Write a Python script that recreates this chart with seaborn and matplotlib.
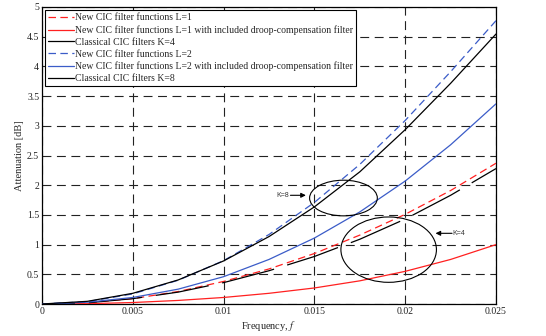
import matplotlib
matplotlib.use("Agg")
import matplotlib.pyplot as plt
from matplotlib.patches import Ellipse
from matplotlib.lines import Line2D
import seaborn as sns
import pandas as pd

# ---- data ----
freq = [0, 0.0025, 0.005, 0.0075, 0.01, 0.0125, 0.015, 0.0175, 0.02, 0.0225, 0.025]
new_L1 = [0, 0.02, 0.09, 0.21, 0.38, 0.59, 0.85, 1.16, 1.51, 1.91, 2.37]
new_L1_comp = [0, 0.005, 0.025, 0.06, 0.11, 0.18, 0.27, 0.39, 0.55, 0.75, 1.0]
classic_K4 = [0, 0.02, 0.09, 0.20, 0.36, 0.56, 0.80, 1.09, 1.43, 1.83, 2.28]
new_L2 = [0, 0.04, 0.17, 0.40, 0.73, 1.17, 1.71, 2.35, 3.09, 3.91, 4.77]
new_L2_comp = [0, 0.03, 0.11, 0.25, 0.46, 0.75, 1.11, 1.55, 2.07, 2.68, 3.37]
classic_K8 = [0, 0.045, 0.18, 0.405, 0.725, 1.135, 1.635, 2.225, 2.935, 3.715, 4.545]

labels = [
    "New CIC filter functions L=1",
    "New CIC filter functions L=1 with included droop-compensation filter",
    "Classical CIC filters K=4",
    "New CIC filter functions L=2",
    "New CIC filter functions L=2 with included droop-compensation filter",
    "Classical CIC filters K=8",
]
xtick_vals = [0, 0.005, 0.01, 0.015, 0.02, 0.025]
xtick_labels = ["0", "0.005", "0.01", "0.015", "0.02", "0.025"]
ytick_vals = [0, 0.5, 1, 1.5, 2, 2.5, 3, 3.5, 4, 4.5, 5]
ytick_labels = ["0", "0.5", "1", "1.5", "2", "2.5", "3", "3.5", "4", "4.5", "5"]

# ---- style ----
sns.set_style("ticks")
plt.rcParams["font.family"] = ["Liberation Serif", "DejaVu Serif"]
plt.rcParams["mathtext.fontset"] = "stix"

RED = "#ff2020"
BLUE = "#3b5cc8"
BLACK = "#000000"
dash_short = (0, (6, 3.5))
dash_k4 = (16.6, (43, 11))

series = [
    (new_L1, RED, dash_short),
    (new_L1_comp, RED, "-"),
    (classic_K4, BLACK, dash_k4),
    (new_L2, BLUE, dash_short),
    (new_L2_comp, BLUE, "-"),
    (classic_K8, BLACK, "-"),
]

fig = plt.figure(figsize=(5.46, 3.36), dpi=100)
ax = fig.add_axes([42 / 546, 1 - 304 / 336, 454 / 546, 297 / 336])

legend_styles = [dash_short, "-", "-", dash_short, "-", "-"]
handles = []
for (vals, col, ls), lab, lls in zip(series, labels, legend_styles):
    df = pd.DataFrame({"f": freq, "a": vals})
    n_before = len(ax.lines)
    sns.lineplot(data=df, x="f", y="a", ax=ax, color=col, lw=0.9, legend=False)
    ln = ax.lines[n_before]
    ln.set_linestyle(ls)
    ln.set_zorder(3)
    handles.append(Line2D([], [], color=col, lw=0.9, linestyle=lls, label=lab))

ax.set_xlim(0, 0.025)
ax.set_ylim(0, 5)
ax.set_xticks(xtick_vals)
ax.set_xticklabels(xtick_labels)
ax.set_yticks(ytick_vals)
ax.set_yticklabels(ytick_labels)
ax.tick_params(direction="in", length=3, width=0.6, labelsize=7, pad=2,
               top=True, right=True, colors="#222222", labelcolor="#222222")
for sp in ax.spines.values():
    sp.set_visible(True)
    sp.set_linewidth(0.9)
    sp.set_color("black")

ax.grid(True, linestyle=(0, (8, 5)), color="#222222", linewidth=0.8)
ax.set_axisbelow(True)

ax.set_xlabel("Frequency, $\\mathit{f}$", fontsize=7.5, labelpad=2)
ax.set_ylabel("Attenuation [dB]", fontsize=7.5, labelpad=2)

# ellipses & annotations
ax.add_patch(Ellipse((0.0166, 1.784), 0.00373, 0.60, fill=False, ec="black", lw=0.8, zorder=4))
ax.add_patch(Ellipse((0.01909, 0.915), 0.00526, 1.10, fill=False, ec="black", lw=0.8, zorder=4))
ap = dict(arrowstyle="-|>", color="black", lw=0.8, mutation_scale=7, shrinkA=0, shrinkB=0)
ax.annotate("", xy=(0.01453, 1.83), xytext=(0.01368, 1.83), arrowprops=ap, zorder=5)
ax.text(0.01363, 1.83, "K=8", ha="right", va="center", fontsize=5,
        family=["Liberation Sans", "DejaVu Sans"], color="#333333")
ax.annotate("", xy=(0.02167, 1.19), xytext=(0.02258, 1.19), arrowprops=ap, zorder=5)
ax.text(0.02262, 1.19, "K=4", ha="left", va="center", fontsize=5,
        family=["Liberation Sans", "DejaVu Sans"], color="#333333")

leg = ax.legend(handles=handles, loc="upper left", fontsize=7, frameon=True,
                fancybox=False, edgecolor="black", framealpha=1,
                handlelength=2.6, handletextpad=0.15, labelspacing=0.3,
                borderpad=0.3, borderaxespad=0.35)
leg.get_frame().set_linewidth(0.8)

fig.savefig("out.png", dpi=100)
